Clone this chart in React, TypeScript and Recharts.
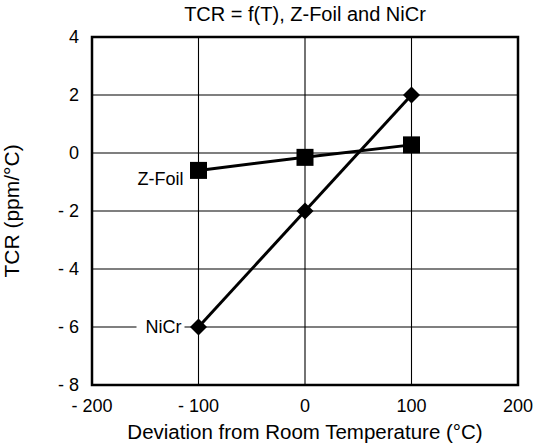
import React from 'react';
import { LineChart, Line, XAxis, YAxis, CartesianGrid, ReferenceArea } from 'recharts';

const temps = [-100, 0, 100];
const zFoil = [-0.6, -0.15, 0.28];
const niCr = [-6, -2, 2];
const xTicks = [-200, -100, 0, 100, 200];
const yTicks = [-8, -6, -4, -2, 0, 2, 4];

const data = temps.map((t, i) => ({ t, zFoil: zFoil[i], niCr: niCr[i] }));

const FONT = '"Liberation Sans", Arial, Helvetica, sans-serif';
const fmt = (v: number) => (v < 0 ? `- ${Math.abs(v)}` : `${v}`);

const Square = (props: any) => {
  const { cx, cy } = props;
  if (cx == null || cy == null) return null;
  return <rect x={cx - 8.5} y={cy - 8.5} width={17} height={17} fill="#000" />;
};

const Diamond = (props: any) => {
  const { cx, cy } = props;
  if (cx == null || cy == null) return null;
  const r = 8.5;
  return <path d={`M${cx},${cy - r} L${cx + r},${cy} L${cx},${cy + r} L${cx - r},${cy} Z`} fill="#000" />;
};

const ZLabel = (props: any) => {
  const { x, y, index } = props;
  if (index !== 0) return null;
  return (
    <text x={x - 15} y={y + 15} textAnchor="end" fontSize={18} fontFamily={FONT} fill="#000">
      Z-Foil
    </text>
  );
};

const NLabel = (props: any) => {
  const { x, y, index } = props;
  if (index !== 0) return null;
  return (
    <g>
      <rect x={x - 62} y={y - 3} width={48} height={6} fill="#fff" />
      <text x={x - 17} y={y} dy="0.35em" textAnchor="end" fontSize={18} fontFamily={FONT} fill="#000">
        NiCr
      </text>
    </g>
  );
};

export default function App() {
  return (
    <div style={{ position: 'absolute', left: 0, top: 0, width: 541, height: 446, background: '#fff', fontFamily: FONT }}>
      <div
        style={{
          position: 'absolute',
          left: 92,
          top: 2,
          width: 426,
          textAlign: 'center',
          fontSize: 20,
          lineHeight: '24px',
          color: '#000',
        }}
      >
        TCR = f(T), Z-Foil and NiCr
      </div>
      <LineChart width={541} height={446} data={data} margin={{ top: 37, right: 23, bottom: 31, left: 32 }}>
        <CartesianGrid stroke="#000" strokeWidth={1.1} />
        <XAxis
          dataKey="t"
          type="number"
          domain={[-200, 200]}
          ticks={xTicks}
          tickFormatter={fmt}
          tickLine={false}
          axisLine={false}
          tickMargin={8}
          height={30}
          tick={{ fontSize: 18, fill: '#000', fontFamily: FONT }}
          label={{ value: 'Deviation from Room Temperature (°C)', position: 'insideBottom', offset: -24, fontSize: 20.5, fill: '#000', fontFamily: FONT }}
        />
        <YAxis
          type="number"
          domain={[-8, 4]}
          ticks={yTicks}
          tickFormatter={fmt}
          tickLine={false}
          axisLine={false}
          tickMargin={7}
          width={60}
          tick={{ fontSize: 18, fill: '#000', fontFamily: FONT }}
          label={{ value: 'TCR (ppm/°C)', angle: -90, position: 'insideLeft', offset: -20, fontSize: 21, fill: '#000', fontFamily: FONT, style: { textAnchor: 'middle' } }}
        />
        <ReferenceArea x1={-200} x2={200} y1={-8} y2={4} fill="none" stroke="#000" strokeWidth={2.5} ifOverflow="visible" />
        <Line
          dataKey="zFoil"
          stroke="#000"
          strokeWidth={3}
          dot={<Square />}
          activeDot={false}
          label={<ZLabel />}
          isAnimationActive={false}
        />
        <Line
          dataKey="niCr"
          stroke="#000"
          strokeWidth={3}
          dot={<Diamond />}
          activeDot={false}
          label={<NLabel />}
          isAnimationActive={false}
        />
      </LineChart>
    </div>
  );
}
